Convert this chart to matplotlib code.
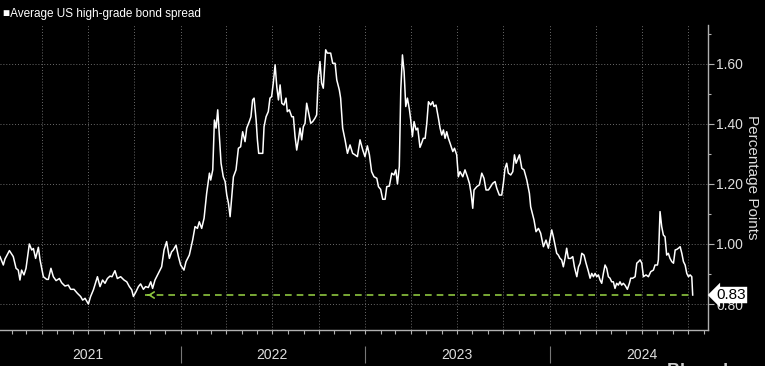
import numpy as np
import pandas as pd
import matplotlib
matplotlib.use('Agg')
import matplotlib.pyplot as plt
import matplotlib.dates as mdates
from matplotlib.ticker import MultipleLocator, FixedLocator

plt.rcParams['font.family'] = ['Liberation Sans', 'DejaVu Sans']

# time as decimal year, spread in percentage points
t_year = [
    2021.019, 2021.037, 2021.046, 2021.070, 2021.091, 2021.106, 2021.118, 2021.127, 2021.136, 2021.149,
    2021.160, 2021.178, 2021.191, 2021.200, 2021.212, 2021.227, 2021.236, 2021.254, 2021.272, 2021.281,
    2021.295, 2021.308, 2021.323, 2021.341, 2021.353, 2021.371, 2021.389, 2021.402, 2021.420, 2021.438,
    2021.456, 2021.467, 2021.480, 2021.498, 2021.510, 2021.525, 2021.547, 2021.561, 2021.575, 2021.588,
    2021.601, 2021.615, 2021.626, 2021.642, 2021.655, 2021.673, 2021.691, 2021.706, 2021.720, 2021.733,
    2021.742, 2021.756, 2021.769, 2021.781, 2021.796, 2021.808, 2021.823, 2021.836, 2021.846, 2021.859,
    2021.877, 2021.895, 2021.908, 2021.922, 2021.937, 2021.949, 2021.958, 2021.973, 2021.986, 2021.998,
    2022.016, 2022.027, 2022.045, 2022.063, 2022.076, 2022.089, 2022.099, 2022.112, 2022.125, 2022.139,
    2022.154, 2022.161, 2022.172, 2022.181, 2022.190, 2022.199, 2022.208, 2022.217, 2022.229, 2022.239,
    2022.248, 2022.257, 2022.266, 2022.275, 2022.284, 2022.298, 2022.311, 2022.323, 2022.334, 2022.347,
    2022.356, 2022.370, 2022.379, 2022.388, 2022.396, 2022.407, 2022.414, 2022.421, 2022.443, 2022.450,
    2022.461, 2022.473, 2022.482, 2022.491, 2022.500, 2022.510, 2022.519, 2022.528, 2022.537, 2022.546,
    2022.558, 2022.569, 2022.576, 2022.587, 2022.600, 2022.609, 2022.618, 2022.627, 2022.636, 2022.645,
    2022.654, 2022.663, 2022.672, 2022.681, 2022.690, 2022.703, 2022.714, 2022.726, 2022.735, 2022.744,
    2022.753, 2022.762, 2022.771, 2022.784, 2022.793, 2022.811, 2022.822, 2022.835, 2022.844, 2022.858,
    2022.865, 2022.876, 2022.889, 2022.902, 2022.916, 2022.930, 2022.943, 2022.956, 2022.970,
    2022.985, 2022.997, 2023.010, 2023.021, 2023.033, 2023.046, 2023.061, 2023.070, 2023.082, 2023.093,
    2023.106, 2023.115, 2023.129, 2023.142, 2023.154, 2023.164, 2023.173, 2023.183, 2023.191, 2023.200,
    2023.209, 2023.218, 2023.227, 2023.238, 2023.245, 2023.254, 2023.263, 2023.274, 2023.283, 2023.295,
    2023.304, 2023.313, 2023.323, 2023.332, 2023.341, 2023.353, 2023.364, 2023.371, 2023.382, 2023.395,
    2023.404, 2023.413, 2023.422, 2023.431, 2023.440, 2023.449, 2023.458, 2023.473, 2023.482, 2023.494,
    2023.503, 2023.512, 2023.527, 2023.539, 2023.552, 2023.563, 2023.572, 2023.581, 2023.588, 2023.603,
    2023.617, 2023.630, 2023.642, 2023.653, 2023.666, 2023.678, 2023.689, 2023.702, 2023.711, 2023.725,
    2023.738, 2023.747, 2023.756, 2023.765, 2023.774, 2023.787, 2023.798, 2023.807, 2023.816, 2023.823,
    2023.834, 2023.847, 2023.859, 2023.874, 2023.888, 2023.895, 2023.906, 2023.913, 2023.924, 2023.937,
    2023.949, 2023.964, 2023.978, 2023.991,
    2024.009, 2024.018, 2024.027, 2024.036, 2024.045, 2024.054, 2024.063, 2024.072, 2024.081, 2024.090,
    2024.099, 2024.112, 2024.123, 2024.132, 2024.145, 2024.154, 2024.163, 2024.172, 2024.184, 2024.195,
    2024.208, 2024.217, 2024.226, 2024.235, 2024.244, 2024.253, 2024.262, 2024.271, 2024.280, 2024.289,
    2024.298, 2024.307, 2024.316, 2024.325, 2024.334, 2024.343, 2024.352, 2024.361, 2024.370, 2024.379,
    2024.388, 2024.397, 2024.406, 2024.419, 2024.430, 2024.437, 2024.448, 2024.461, 2024.470, 2024.479,
    2024.488, 2024.497, 2024.506, 2024.520, 2024.533, 2024.546, 2024.560, 2024.569, 2024.582, 2024.587,
    2024.596, 2024.605, 2024.614, 2024.623, 2024.632, 2024.641, 2024.650, 2024.660, 2024.669, 2024.678,
    2024.687, 2024.696, 2024.705, 2024.714, 2024.723, 2024.732, 2024.741, 2024.750, 2024.759, 2024.768,
    2024.773,
]
spread = [
    0.958, 0.930, 0.950, 0.978, 0.958, 0.919, 0.913, 0.880, 0.913, 0.897,
    0.919, 1.000, 0.980, 0.985, 0.952, 0.989, 0.947, 0.891, 0.882, 0.882,
    0.919, 0.891, 0.878, 0.885, 0.871, 0.860, 0.863, 0.849, 0.849, 0.836,
    0.825, 0.813, 0.819, 0.800, 0.825, 0.847, 0.891, 0.858, 0.880, 0.869,
    0.885, 0.893, 0.891, 0.911, 0.885, 0.891, 0.880, 0.874, 0.858, 0.847,
    0.825, 0.841, 0.858, 0.867, 0.849, 0.858, 0.855, 0.874, 0.852, 0.880,
    0.902, 0.924, 0.980, 1.008, 0.952, 0.974, 0.980, 0.996, 0.958, 0.930,
    0.913, 0.941, 0.963, 1.013, 1.058, 1.052, 1.074, 1.052, 1.086, 1.169,
    1.236, 1.213, 1.247, 1.413, 1.386, 1.447, 1.358, 1.269, 1.224, 1.208,
    1.163, 1.136, 1.091, 1.158, 1.224, 1.247, 1.319, 1.324, 1.374, 1.341,
    1.386, 1.408, 1.424, 1.480, 1.486, 1.413, 1.347, 1.302, 1.302, 1.391,
    1.424, 1.441, 1.486, 1.491, 1.536, 1.597, 1.524, 1.480, 1.530, 1.469,
    1.463, 1.486, 1.441, 1.447, 1.424, 1.424, 1.358, 1.313, 1.347, 1.386,
    1.347, 1.391, 1.402, 1.469, 1.441, 1.402, 1.408, 1.419, 1.430, 1.558,
    1.608, 1.536, 1.519, 1.647, 1.636, 1.636, 1.602, 1.602, 1.547, 1.513,
    1.486, 1.386, 1.347, 1.302, 1.330, 1.302, 1.297, 1.291, 1.347,
    1.313, 1.291, 1.327, 1.297, 1.241, 1.224, 1.219, 1.191, 1.182, 1.149,
    1.149, 1.191, 1.193, 1.236, 1.230, 1.247, 1.200, 1.258, 1.513, 1.630,
    1.574, 1.458, 1.486, 1.447, 1.413, 1.358, 1.408, 1.380, 1.386, 1.322,
    1.336, 1.352, 1.352, 1.402, 1.474, 1.463, 1.474, 1.458, 1.463, 1.419,
    1.386, 1.363, 1.380, 1.352, 1.374, 1.352, 1.336, 1.308, 1.319, 1.297,
    1.224, 1.241, 1.224, 1.247, 1.224, 1.202, 1.169, 1.119, 1.180, 1.191,
    1.197, 1.236, 1.219, 1.180, 1.180, 1.191, 1.202, 1.208, 1.186, 1.163,
    1.163, 1.202, 1.252, 1.269, 1.236, 1.230, 1.241, 1.297, 1.269, 1.280,
    1.297, 1.252, 1.247, 1.213, 1.169, 1.124, 1.097, 1.080, 1.041, 1.052,
    1.036, 0.991, 1.013, 0.986,
    1.047, 1.024, 0.997, 0.969, 0.963, 0.952, 0.947, 0.924, 0.952, 0.986,
    0.952, 0.952, 0.958, 0.924, 0.891, 0.924, 0.936, 0.969, 0.963, 0.936,
    0.908, 0.886, 0.902, 0.891, 0.902, 0.891, 0.897, 0.880, 0.869, 0.902,
    0.930, 0.919, 0.891, 0.886, 0.874, 0.874, 0.852, 0.869, 0.863, 0.874,
    0.863, 0.869, 0.863, 0.849, 0.869, 0.886, 0.886, 0.891, 0.936, 0.941,
    0.947, 0.936, 0.891, 0.897, 0.891, 0.908, 0.913, 0.930, 0.930, 0.947,
    1.108, 1.058, 1.030, 1.024, 0.963, 0.969, 0.952, 0.941, 0.936, 0.980,
    0.982, 0.986, 0.991, 0.969, 0.941, 0.930, 0.902, 0.891, 0.897, 0.891,
    0.830,
]
latest = 0.83
prior_year = 2021.805       # last time spread was this tight
years = [2021, 2022, 2023, 2024]


def to_date(y):
    return pd.Timestamp('2021-01-01') + pd.to_timedelta((np.asarray(y) - 2021) * 365.25, unit='D')


dates = to_date(t_year)
d_prior = to_date(prior_year)
d_last = dates[-1]

fig = plt.figure(figsize=(7.65, 3.66), dpi=100, facecolor='black')
ax = fig.add_axes([0, 0.098, 0.9255, 0.834])
ax.set_facecolor('black')

# grid: quarters vertically, 0.2 steps horizontally
for q in pd.date_range('2021-04-01', '2024-10-01', freq='QS'):
    ax.axvline(q, color='#6a6a6a', ls=(0, (1, 2)), lw=0.7, zorder=1)
for v in [0.8, 1.0, 1.2, 1.4, 1.6]:
    ax.axhline(v, color='#6a6a6a', ls=(0, (1, 2)), lw=0.7, zorder=1)

ax.plot(dates, spread, color='white', lw=1.1, zorder=3)

# dashed comparison line back to the prior low
ax.plot([d_prior, d_last], [latest, latest], color='#8dc63f', lw=1.2, ls=(0, (4, 3)), zorder=2)
ax.annotate('', xy=(d_prior, latest), xytext=(d_prior + pd.Timedelta(days=12), latest),
            arrowprops=dict(arrowstyle='->,head_length=0.35,head_width=0.22', color='#8dc63f', lw=1.2))

ax.set_xlim(to_date(2021.019), to_date(2024.856))
ax.set_ylim(0.713, 1.73)

# axes look
for s in ['top', 'left']:
    ax.spines[s].set_visible(False)
for s in ['right', 'bottom']:
    ax.spines[s].set_color('#b0b0b0')
    ax.spines[s].set_linewidth(1.0)

ax.yaxis.tick_right()
ax.yaxis.set_label_position('right')
ax.yaxis.set_major_locator(FixedLocator([0.8, 1.0, 1.2, 1.4, 1.6]))
ax.yaxis.set_minor_locator(MultipleLocator(0.1))
ax.yaxis.set_major_formatter(matplotlib.ticker.FormatStrFormatter('%.2f'))
ax.tick_params(axis='y', which='major', length=4, width=0.8, color='#b0b0b0',
               labelcolor='#dddddd', labelsize=10, pad=2)
ax.tick_params(axis='y', which='minor', length=2, width=0.8, color='#b0b0b0')
ax.set_ylabel('Percentage Points', rotation=270, color='#dddddd', fontsize=11, labelpad=11)

# years labelled mid-year, monthly minor ticks
ax.xaxis.remove_overlapping_locs = False
ax.xaxis.set_major_locator(FixedLocator(mdates.date2num([pd.Timestamp(f'{y}-07-01') for y in years])))
ax.xaxis.set_major_formatter(mdates.DateFormatter('%Y'))
ax.xaxis.set_minor_locator(mdates.MonthLocator())
ax.tick_params(axis='x', which='major', length=0, labelcolor='#dddddd', labelsize=10, pad=13)
ax.tick_params(axis='x', which='minor', length=3, width=0.8, color='#b0b0b0')

# separators between year labels
ax.vlines([pd.Timestamp(f'{y}-01-01') for y in years[1:]], -0.052, -0.108,
          transform=ax.get_xaxis_transform(), color='#777777', lw=0.8, clip_on=False)

# latest value tag
ax.annotate(f'{latest:.2f}', xy=(1.0, latest), xycoords=('axes fraction', 'data'),
            xytext=(6, 0), textcoords='offset points', va='center', ha='left',
            fontsize=11, color='black', annotation_clip=False, zorder=10,
            bbox=dict(boxstyle='larrow,pad=0.08', fc='white', ec='none'))

fig.text(0.004, 0.963, '\u25a0Average US high-grade bond spread', fontsize=8.5,
         color='white', va='center', ha='left')
fig.text(0.872, 0.007, 'Bloomberg \u25a0', fontsize=13, fontweight='bold', color='#cccccc',
         va='top', ha='left')

fig.savefig('out.png', dpi=100, facecolor='black')
